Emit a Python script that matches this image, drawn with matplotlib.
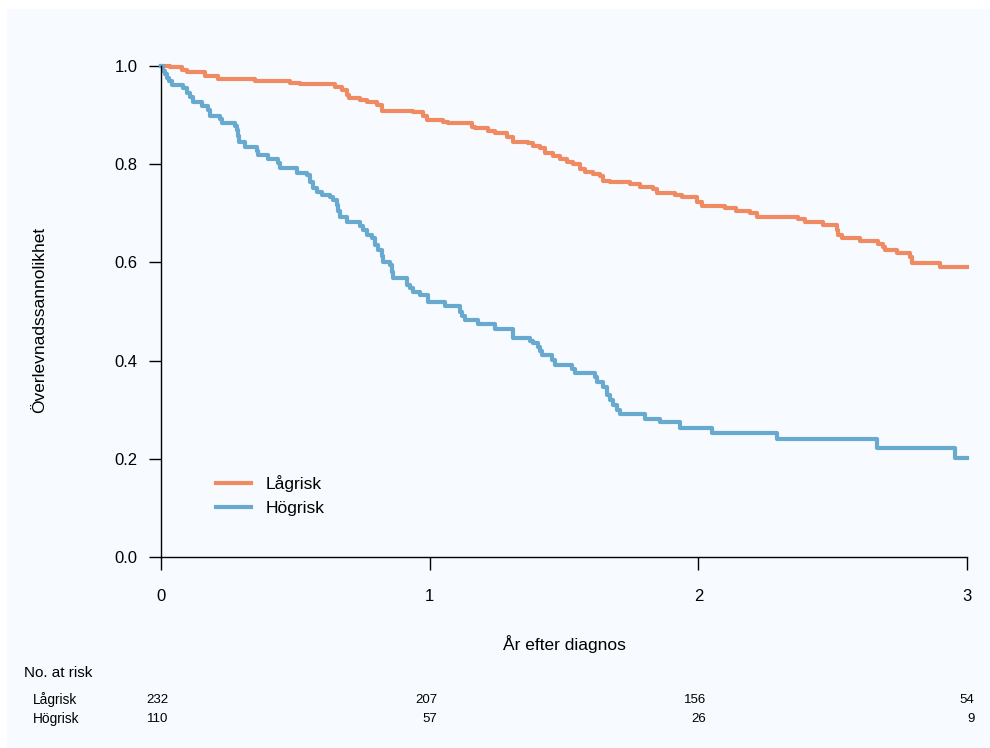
import matplotlib
matplotlib.use('Agg')
import matplotlib.pyplot as plt
import matplotlib.transforms as mtransforms
from matplotlib.patches import Rectangle

plt.rcParams['font.family'] = ['Liberation Sans', 'DejaVu Sans']

# Kaplan-Meier steps, Lågrisk (time in years, survival after each step)
low_t = [0, 0.033, 0.077, 0.097, 0.164, 0.212, 0.350, 0.480, 0.517, 0.648, 0.674, 0.692, 0.700,
         0.741, 0.767, 0.804, 0.823, 0.938, 0.975, 0.990, 1.050, 1.068, 1.158, 1.169, 1.217, 1.243,
         1.288, 1.310, 1.366, 1.385, 1.411, 1.429, 1.459, 1.485, 1.511, 1.533, 1.560, 1.578, 1.608,
         1.634, 1.645, 1.671, 1.746, 1.783, 1.831, 1.846, 1.913, 1.939, 1.995, 2.014, 2.099, 2.140,
         2.192, 2.218, 2.371, 2.397, 2.464, 2.516, 2.520, 2.535, 2.602, 2.669, 2.687, 2.695, 2.739,
         2.788, 2.795, 2.899, 3.0]
low_s = [1.0, 0.997, 0.992, 0.987, 0.980, 0.974, 0.970, 0.966, 0.963, 0.958, 0.951, 0.941, 0.934,
         0.930, 0.926, 0.920, 0.909, 0.906, 0.898, 0.890, 0.886, 0.884, 0.876, 0.874, 0.868, 0.863,
         0.856, 0.846, 0.843, 0.838, 0.832, 0.823, 0.816, 0.810, 0.805, 0.800, 0.790, 0.785, 0.781,
         0.775, 0.766, 0.763, 0.759, 0.754, 0.749, 0.741, 0.737, 0.733, 0.724, 0.715, 0.710, 0.705,
         0.701, 0.693, 0.688, 0.682, 0.676, 0.666, 0.656, 0.649, 0.644, 0.637, 0.631, 0.625, 0.619,
         0.610, 0.599, 0.590, 0.590]

# Högrisk
high_t = [0, 0.007, 0.015, 0.022, 0.030, 0.040, 0.082, 0.097, 0.108, 0.120, 0.151, 0.176, 0.182,
          0.220, 0.226, 0.275, 0.282, 0.288, 0.290, 0.313, 0.356, 0.362, 0.399, 0.437, 0.443, 0.505,
          0.542, 0.555, 0.567, 0.580, 0.598, 0.629, 0.641, 0.654, 0.659, 0.666, 0.691, 0.741, 0.753,
          0.766, 0.784, 0.797, 0.809, 0.821, 0.826, 0.852, 0.860, 0.865, 0.915, 0.927, 0.939, 0.964,
          0.995, 1.057, 1.113, 1.122, 1.132, 1.181, 1.243, 1.311, 1.373, 1.385, 1.404, 1.411, 1.417,
          1.454, 1.466, 1.529, 1.541, 1.616, 1.622, 1.646, 1.659, 1.671, 1.683, 1.696, 1.708, 1.801,
          1.857, 1.932, 2.050, 2.294, 2.664, 2.955, 3.0]
high_s = [1.0, 0.990, 0.984, 0.976, 0.969, 0.962, 0.955, 0.945, 0.937, 0.927, 0.919, 0.910, 0.899,
          0.893, 0.883, 0.878, 0.870, 0.857, 0.846, 0.836, 0.827, 0.819, 0.810, 0.802, 0.792, 0.783,
          0.778, 0.764, 0.751, 0.744, 0.737, 0.734, 0.727, 0.717, 0.705, 0.693, 0.683, 0.674, 0.666,
          0.656, 0.649, 0.635, 0.625, 0.613, 0.601, 0.595, 0.580, 0.568, 0.554, 0.548, 0.540, 0.534,
          0.520, 0.511, 0.500, 0.491, 0.483, 0.474, 0.464, 0.446, 0.440, 0.435, 0.428, 0.419, 0.411,
          0.401, 0.391, 0.383, 0.374, 0.366, 0.357, 0.347, 0.330, 0.320, 0.310, 0.299, 0.291, 0.282,
          0.274, 0.263, 0.253, 0.240, 0.223, 0.202, 0.202]

groups = ['Lågrisk', 'Högrisk']
colors = ['#EF8A62', '#67A9CF']
risk_times = [0, 1, 2, 3]
risk_low = [232, 207, 156, 54]
risk_high = [110, 57, 26, 9]

fig = plt.figure(figsize=(9.9, 7.48), dpi=100)
fig.patches.append(Rectangle((7 / 990, 0), 1, 1 - 9 / 748, transform=fig.transFigure,
                             facecolor='#F7FBFF', edgecolor='none', zorder=-10))

ax = fig.add_axes([161 / 990, 191 / 748, 806 / 990, 491 / 748])
ax.set_facecolor('none')

ax.step(low_t, low_s, where='post', color=colors[0], lw=3, label=groups[0], clip_on=False)
ax.step(high_t, high_s, where='post', color=colors[1], lw=3, label=groups[1], clip_on=False)

ax.set_xlim(0, 3)
ax.set_ylim(0, 1)
ax.set_xticks(risk_times)
ax.set_yticks([0, 0.2, 0.4, 0.6, 0.8, 1.0])
ax.set_yticklabels(['0.0', '0.2', '0.4', '0.6', '0.8', '1.0'])
for s in ['top', 'right']:
    ax.spines[s].set_visible(False)
for s in ['left', 'bottom']:
    ax.spines[s].set_linewidth(1)
ax.tick_params(axis='both', direction='out', length=9, width=1, labelsize=12)
ax.tick_params(axis='y', pad=8)
ax.tick_params(axis='x', pad=14)

ax.set_ylabel('Överlevnadssannolikhet', fontsize=12.5)
ax.yaxis.set_label_coords(-0.141, 0.482)
ax.set_xlabel('År efter diagnos', fontsize=12.5)
ax.xaxis.set_label_coords(0.5, -0.159)

leg = ax.legend(loc='upper left', bbox_to_anchor=(0.068, 0.166), frameon=False, fontsize=12.5,
                borderpad=0, borderaxespad=0, handlelength=2.0, handletextpad=0.86, labelspacing=0.47)

# risk table
fig.text(24 / 990, 1 - 673 / 748, 'No. at risk', fontsize=11, va='center', ha='left')
trans = mtransforms.blended_transform_factory(ax.transData, fig.transFigure)
for i, (name, counts) in enumerate(zip(groups, [risk_low, risk_high])):
    ypos = 1 - (700 + 19 * i) / 748
    fig.text(33 / 990, ypos, name, fontsize=9.9, va='center', ha='left')
    for t, n in zip(risk_times, counts):
        ax.annotate(str(n), xy=(t, ypos), xycoords=trans, xytext=(5.5, 0),
                    textcoords='offset points', fontsize=9.5, va='center', ha='right',
                    annotation_clip=False)

fig.savefig('out.png', dpi=100, facecolor='white')
